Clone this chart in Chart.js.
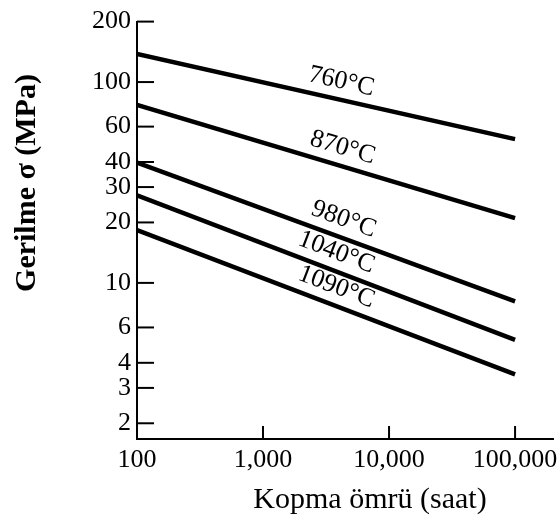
<!DOCTYPE html>
<html>
<head>
<meta charset="utf-8">
<script src="https://cdn.jsdelivr.net/npm/chart.js@4"></script>
<style>
  html, body { margin: 0; padding: 0; background: #fff; }
  #wrap { width: 560px; height: 525px; }
</style>
</head>
<body>
<div id="wrap"><canvas id="creep"></canvas></div>
<script>
// rupture life (hours) at the two ends of each line
var lifeHours = [100, 100000];

// stress (MPa), one array per temperature
var stress760 = [138, 52];
var stress870 = [77, 21];
var stress980 = [39.7, 8.1];
var stress1040 = [27.3, 5.2];
var stress1090 = [18.3, 3.5];

var tempNames = ['760°C', '870°C', '980°C', '1040°C', '1090°C'];

var yTicks = [2, 3, 4, 6, 10, 20, 30, 40, 60, 100, 200];
var xTicks = [100, 1000, 10000, 100000];
var xTickLabels = ['100', '1,000', '10,000', '100,000'];

var allStress = [stress760, stress870, stress980, stress1040, stress1090];

var datasets = allStress.map(function (s, i) {
    return {
        label: tempNames[i],
        data: s.map(function (v, j) { return {x: lifeHours[j], y: v}; }),
        borderColor: '#000',
        borderWidth: 4.5,
        pointRadius: 0,
        fill: false
    };
});

var serif = '"Liberation Serif", "DejaVu Serif", serif';

// where along each line the temperature name sits (hours)
var labelAt = [3900, 3900, 3900, 3400, 3400];

var extras = {
    id: 'extras',
    afterDatasetsDraw: function (chart) {
        var ctx = chart.ctx;
        var xs = chart.scales.x, ys = chart.scales.y;
        ctx.save();
        ctx.strokeStyle = '#000';
        ctx.lineWidth = 2;
        // inward ticks
        yTicks.forEach(function (v) {
            var py = ys.getPixelForValue(v);
            ctx.beginPath();
            ctx.moveTo(xs.left, py);
            ctx.lineTo(xs.left + 17, py);
            ctx.stroke();
        });
        xTicks.forEach(function (v) {
            var px = xs.getPixelForValue(v);
            ctx.beginPath();
            ctx.moveTo(px, ys.bottom);
            ctx.lineTo(px, ys.bottom - 13);
            ctx.stroke();
        });

        // temperature names along the lines
        ctx.fillStyle = '#000';
        ctx.font = '26px ' + serif;
        ctx.textAlign = 'center';
        ctx.textBaseline = 'middle';
        allStress.forEach(function (s, i) {
            var x1 = xs.getPixelForValue(lifeHours[0]), y1 = ys.getPixelForValue(s[0]);
            var x2 = xs.getPixelForValue(lifeHours[1]), y2 = ys.getPixelForValue(s[1]);
            var ang = Math.atan2(y2 - y1, x2 - x1);
            var px = xs.getPixelForValue(labelAt[i]);
            var py = y1 + (px - x1) * (y2 - y1) / (x2 - x1);
            ctx.save();
            ctx.translate(px, py);
            ctx.rotate(ang);
            ctx.fillText(tempNames[i], 0, -18);
            ctx.restore();
        });

        // axis titles
        ctx.font = 'bold 30px ' + serif;
        ctx.save();
        ctx.translate(27, 183);
        ctx.rotate(-Math.PI / 2);
        ctx.fillText('Gerilme σ (MPa)', 0, 0);
        ctx.restore();
        ctx.font = '30px ' + serif;
        ctx.fillText('Kopma ömrü (saat)', 370, 500);
        ctx.restore();
    }
};

new Chart(document.getElementById('creep').getContext('2d'), {
    type: 'line',
    data: { datasets: datasets },
    options: {
        responsive: true,
        maintainAspectRatio: false,
        animation: false,
        layout: { padding: { top: 16, right: 7, left: 0, bottom: 0 } },
        plugins: { legend: { display: false }, tooltip: { enabled: false } },
        scales: {
            x: {
                type: 'logarithmic',
                min: 100,
                max: 200000,
                afterBuildTicks: function (scale) {
                    scale.ticks = xTicks.map(function (v) { return {value: v}; });
                },
                afterFit: function (scale) {
                    scale.height = 86;
                    // let the last label run into the right margin
                    scale.paddingLeft = 0;
                    scale.paddingRight = 0;
                },
                grid: { drawOnChartArea: false, drawTicks: false },
                border: { display: true, color: '#000', width: 2 },
                ticks: {
                    color: '#000',
                    font: { family: serif, size: 26 },
                    padding: 6,
                    maxRotation: 0,
                    autoSkip: false,
                    callback: function (v, i) { return xTickLabels[i]; }
                }
            },
            y: {
                type: 'logarithmic',
                min: 1.67,
                max: 200,
                afterBuildTicks: function (scale) {
                    scale.ticks = yTicks.map(function (v) { return {value: v}; });
                },
                afterFit: function (scale) { scale.width = 137; },
                grid: { drawOnChartArea: false, drawTicks: false },
                border: { display: true, color: '#000', width: 2 },
                ticks: {
                    color: '#000',
                    font: { family: serif, size: 26 },
                    padding: 6,
                    autoSkip: false,
                    callback: function (v) { return String(v); }
                }
            }
        }
    },
    plugins: [extras]
});
</script>
</body>
</html>
